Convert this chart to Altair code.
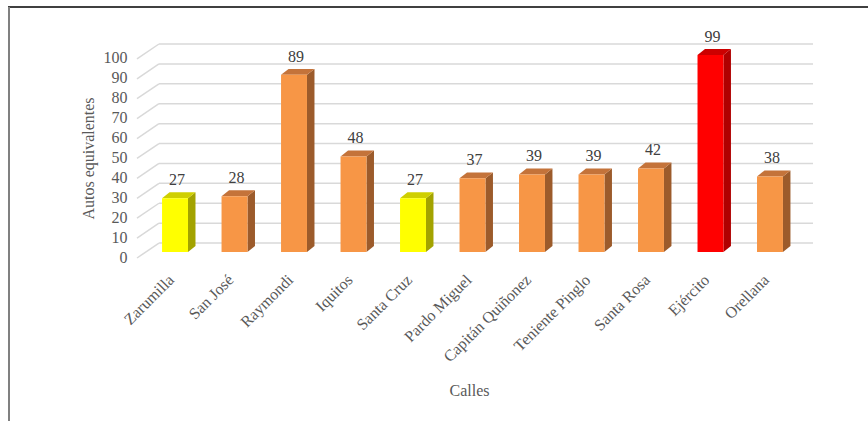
import json
import altair as alt
import pandas as pd

# ---------------- data ----------------
calles = ["Zarumilla", "San José", "Raymondi", "Iquitos", "Santa Cruz",
          "Pardo Miguel", "Capitán Quiñonez", "Teniente Pinglo", "Santa Rosa",
          "Ejército", "Orellana"]
autos = [27, 28, 89, 48, 27, 37, 39, 39, 42, 99, 38]
ticks_y = [0, 10, 20, 30, 40, 50, 60, 70, 80, 90, 100]

# ---------------- style ----------------
FONT = "Liberation Serif"
FRONT = {"bajo": "#FFFF00", "medio": "#F79646", "alto": "#FF0000"}
TOP = {"bajo": "#CFCF00", "medio": "#C4733A", "alto": "#CC0000"}
SIDE = {"bajo": "#A3A300", "medio": "#9C5B2B", "alto": "#B00000"}
HALF = 0.218      # half width of the bar front face (category units)
DX, DY = 0.126, 3.0   # 3D depth of the bars
X_MIN, X_MAX = -0.639, 10.723
WALL_X = -0.27    # back wall start
WALL_UP, FLOOR_DOWN = 4.5, 3.0
Y_MIN, Y_MAX = -3, 105

vmin, vmax = min(autos), max(autos)


def grupo(v):
    return "bajo" if v == vmin else ("alto" if v == vmax else "medio")


front_rows, side_rows, top_rows = [], [], []
for i, (c, v) in enumerate(zip(calles, autos)):
    g = grupo(v)
    xl, xr = i - HALF, i + HALF
    front_rows.append(dict(calle=c, i=i, xl=xl, xr=xr, v=v, base=0, color=FRONT[g]))
    side_rows += [dict(calle=c, x=xr, lo=0, hi=v, color=SIDE[g]),
                  dict(calle=c, x=xr + DX, lo=DY, hi=v + DY, color=SIDE[g])]
    top_rows += [dict(calle=c, x=xl, lo=v, hi=v, color=TOP[g]),
                 dict(calle=c, x=xl + DX, lo=v, hi=v + DY, color=TOP[g]),
                 dict(calle=c, x=xr, lo=v, hi=v + DY, color=TOP[g]),
                 dict(calle=c, x=xr + DX, lo=v + DY, hi=v + DY, color=TOP[g])]

front_df = pd.DataFrame(front_rows)
side_df = pd.DataFrame(side_rows)
top_df = pd.DataFrame(top_rows)
grid_df = pd.DataFrame({"t": ticks_y})
grid_df["front"] = grid_df["t"] - FLOOR_DOWN
grid_df["back"] = grid_df["t"] + WALL_UP
grid_df["xf"] = X_MIN
grid_df["xb"] = WALL_X
grid_df["xe"] = X_MAX

xs = alt.Scale(domain=[X_MIN, X_MAX], nice=False, zero=False)
ys = alt.Scale(domain=[Y_MIN, Y_MAX], nice=False, zero=False)

label_expr = json.dumps(calles, ensure_ascii=False) + "[round(datum.value)]"

XAX = alt.Axis(values=list(range(len(calles))), labelExpr=label_expr,
               labelAngle=-45, labelAlign="right", labelBaseline="middle",
               labelPadding=19, labelOffset=-4, labelFont=FONT, labelFontSize=16,
               labelColor="#595959", ticks=False, domain=False, grid=False,
               title="Calles", titleFont=FONT, titleFontSize=16,
               titleFontWeight="normal", titleColor="#595959",
               titleX=332, titleY=132, titleBaseline="middle",
               titleAlign="center", labelOverlap=False)
YAX = alt.Axis(values=ticks_y, grid=False, domain=False, ticks=False,
               labelOffset=5, labelPadding=10, labelFont=FONT,
               labelFontSize=16, labelColor="#595959",
               title="Autos equivalentes", titleFont=FONT,
               titleFontSize=16, titleFontWeight="normal",
               titleColor="#595959", titleX=-49, titleY=115,
               titleAngle=-90, titleAlign="center",
               titleBaseline="middle")

GRID = "#D9D9D9"

frame_df = pd.DataFrame({"a": [0]})
top_line = alt.Chart(frame_df).mark_rule(color="#000000", strokeWidth=1.3).encode(
    x=alt.value(-129), x2=alt.value(731), y=alt.value(-36))
left_line = alt.Chart(frame_df).mark_rule(color="#808080", strokeWidth=2).encode(
    x=alt.value(-128), y=alt.value(-36), y2=alt.value(378))

wall = alt.Chart(grid_df).mark_rule(color=GRID, strokeWidth=1.5).encode(
    x=alt.X("xb:Q", scale=xs, axis=XAX), x2="xe:Q",
    y=alt.Y("back:Q", scale=ys, axis=YAX))
diag = alt.Chart(grid_df).mark_rule(color=GRID, strokeWidth=1.5).encode(
    x=alt.X("xf:Q", scale=xs, axis=XAX), x2="xb:Q",
    y=alt.Y("front:Q", scale=ys, axis=YAX), y2="back:Q")

side = alt.Chart(side_df).mark_area(orient="vertical", interpolate="linear").encode(
    x=alt.X("x:Q", scale=xs, axis=XAX),
    y=alt.Y("hi:Q", scale=ys, axis=YAX, stack=None), y2="lo:Q",
    detail="calle:N",
    color=alt.Color("color:N", scale=None))
top = alt.Chart(top_df).mark_area(orient="vertical", interpolate="linear").encode(
    x=alt.X("x:Q", scale=xs, axis=XAX),
    y=alt.Y("hi:Q", scale=ys, axis=YAX, stack=None), y2="lo:Q",
    detail="calle:N",
    color=alt.Color("color:N", scale=None))

front = alt.Chart(front_df).mark_rect().encode(
    x=alt.X("xl:Q", scale=xs, axis=XAX),
    x2="xr:Q",
    y=alt.Y("v:Q", scale=ys, axis=YAX),
    y2="base:Q",
    color=alt.Color("color:N", scale=None))

labels = alt.Chart(front_df).mark_text(
    font=FONT, fontSize=16, color="#404040", dy=-18, dx=2, baseline="middle"
).encode(
    x=alt.X("i:Q", scale=xs, axis=XAX),
    y=alt.Y("v:Q", scale=ys, axis=YAX),
    text="v:Q")

chart = alt.layer(top_line, left_line, wall, diag, side, top, front, labels).properties(
    width=676, height=215,
    padding={"left": 137, "top": 43, "right": 55, "bottom": 163},
    autosize=alt.AutoSizeParams(type="none"),
    background="#FFFFFF",
).configure_view(stroke=None)

chart.save("out.html", embed_options={"renderer": "svg", "actions": False})
